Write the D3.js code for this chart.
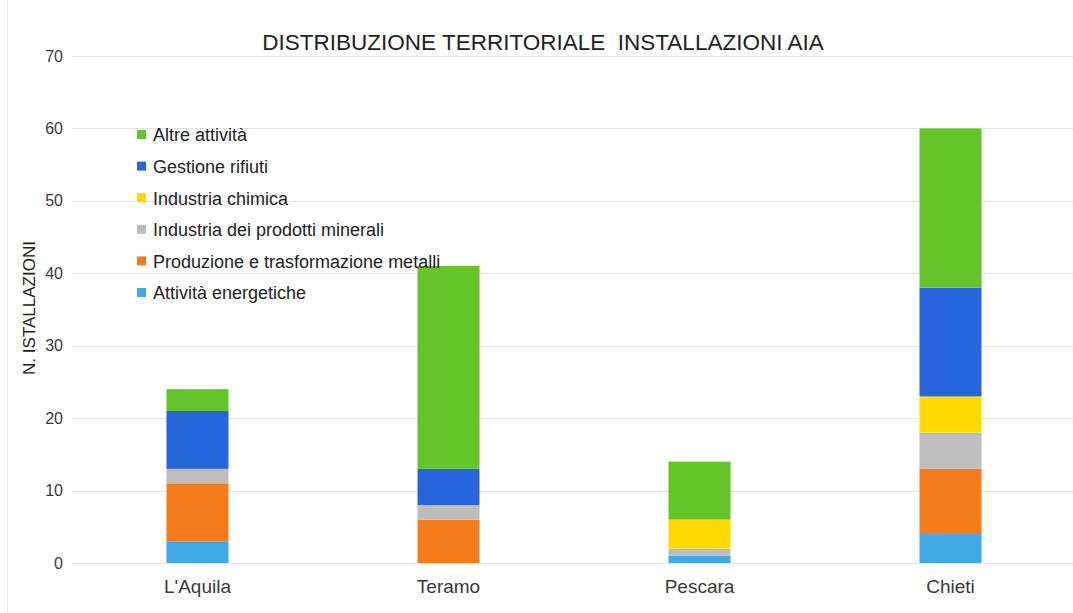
<!DOCTYPE html>
<html>
<head>
<meta charset="utf-8">
<script src="https://cdn.jsdelivr.net/npm/d3@7"></script>
<style>
  body { margin: 0; background: #fff; }
  text { font-family: "Liberation Sans", Arial, sans-serif; }
</style>
</head>
<body>
<script>
// data
const provinces = ["L'Aquila", 'Teramo', 'Pescara', 'Chieti']
const seriesNames = ['Attività energetiche', 'Produzione e trasformazione metalli', 'Industria dei prodotti minerali',
  'Industria chimica', 'Gestione rifiuti', 'Altre attività']
const energetiche = [3, 0, 1, 4]
const metalli = [8, 6, 0, 9]
const minerali = [2, 2, 1, 5]
const chimica = [0, 0, 4, 5]
const rifiuti = [8, 5, 0, 15]
const altre = [3, 28, 8, 22]
const yTicks = [0, 10, 20, 30, 40, 50, 60, 70]

const colors = ['#41a8e6', '#f57c1c', '#bdbdbd', '#ffd900', '#2666da', '#64c42a']

const width = 1073, height = 613
const margin = { top: 56, right: 0, bottom: 50, left: 72 }

const rows = provinces.map((p, i) => ({
  province: p,
  'Attività energetiche': energetiche[i],
  'Produzione e trasformazione metalli': metalli[i],
  'Industria dei prodotti minerali': minerali[i],
  'Industria chimica': chimica[i],
  'Gestione rifiuti': rifiuti[i],
  'Altre attività': altre[i]
}))

const stack = d3.stack().keys(seriesNames)(rows)

const svg = d3.select('body').append('svg')
  .attr('width', width)
  .attr('height', height)

const x = d3.scaleBand().domain(provinces).range([margin.left, 1076]).paddingInner(0.753).paddingOuter(0.3765)
const y = d3.scaleLinear().domain([0, 70]).range([563, margin.top])

// faint frame line at left
svg.append('line').attr('x1', 7.5).attr('x2', 7.5).attr('y1', 0).attr('y2', height)
  .attr('stroke', '#ececec')

// grid
svg.append('g').selectAll('line').data(yTicks).join('line')
  .attr('x1', margin.left).attr('x2', width)
  .attr('y1', d => Math.round(y(d)) + 0.5).attr('y2', d => Math.round(y(d)) + 0.5)
  .attr('stroke', '#e4e4e4')

// y axis labels
const yAxis = svg.append('g').attr('transform', `translate(${margin.left},0)`)
  .call(d3.axisLeft(y).tickValues(yTicks).tickSize(0).tickPadding(9))
yAxis.select('.domain').remove()
yAxis.selectAll('text').attr('font-size', 16).attr('fill', '#3a3a3a')
  .attr('font-family', '"Liberation Sans", Arial, sans-serif')

// x axis labels
const xAxis = svg.append('g').attr('transform', 'translate(0,563)')
  .call(d3.axisBottom(x).tickSize(0).tickPadding(17))
xAxis.select('.domain').remove()
xAxis.selectAll('text').attr('font-size', 19).attr('fill', '#3a3a3a')
  .attr('font-family', '"Liberation Sans", Arial, sans-serif')

// bars
svg.append('g').selectAll('g').data(stack).join('g')
  .attr('fill', (d, i) => colors[i])
  .selectAll('rect').data(d => d).join('rect')
  .attr('x', d => x(d.data.province))
  .attr('width', x.bandwidth())
  .attr('y', d => y(d[1]))
  .attr('height', d => y(d[0]) - y(d[1]))

// legend, top entry is last series
const legend = svg.append('g').attr('transform', 'translate(137,135)')
const legendItems = seriesNames.slice().reverse()
legendItems.forEach((name, i) => {
  const g = legend.append('g').attr('transform', `translate(0,${i * 31.6})`)
  g.append('rect').attr('x', 0).attr('y', -5).attr('width', 9).attr('height', 9)
    .attr('fill', colors[seriesNames.indexOf(name)])
  g.append('text').attr('x', 16).attr('y', 0).attr('dy', '0.35em')
    .attr('font-size', 18).attr('fill', '#222').text(name)
})

// title
svg.append('text').attr('x', 543).attr('y', 50).attr('text-anchor', 'middle')
  .attr('font-size', 22.5).attr('fill', '#222')
  .style('white-space', 'pre')
  .text('DISTRIBUZIONE TERRITORIALE  INSTALLAZIONI AIA')

// y axis title
svg.append('text')
  .attr('transform', 'translate(35,308) rotate(-90)')
  .attr('text-anchor', 'middle')
  .attr('font-size', 17).attr('fill', '#222')
  .text('N. ISTALLAZIONI')
</script>
</body>
</html>
